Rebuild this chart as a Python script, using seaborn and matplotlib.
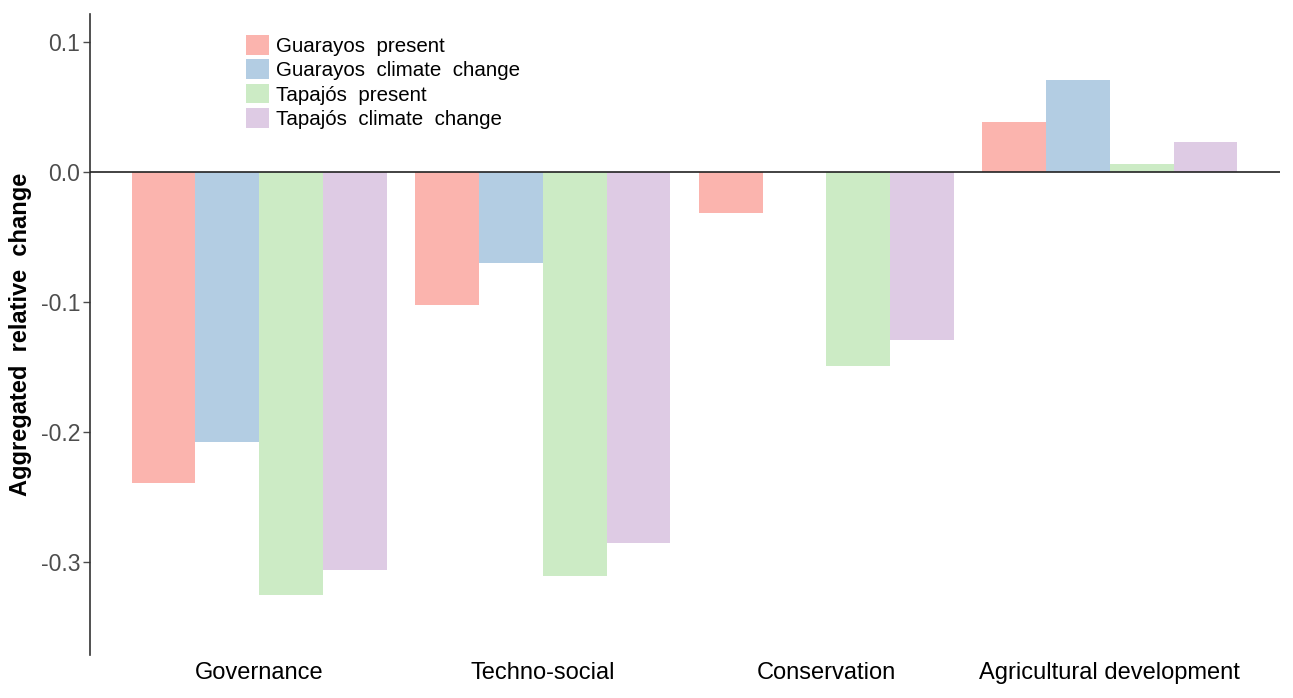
import matplotlib
matplotlib.use("Agg")
import matplotlib.pyplot as plt
import seaborn as sns
import pandas as pd
import numpy as np

categories = ["Governance", "Techno-social", "Conservation", "Agricultural development"]
series_names = ["Guarayos present", "Guarayos climate change", "Tapajós present", "Tapajós climate change"]
guarayos_present = [-0.239, -0.102, -0.0315, 0.0385]
guarayos_cc = [-0.208, -0.070, np.nan, 0.0705]
tapajos_present = [-0.325, -0.311, -0.149, 0.0063]
tapajos_cc = [-0.306, -0.285, -0.129, 0.023]
y_ticks = [0.1, 0.0, -0.1, -0.2, -0.3]
y_tick_labels = ["0.1", "0.0", "-0.1", "-0.2", "-0.3"]
colors = ["#FBB4AE", "#B3CDE3", "#CCEBC5", "#DECBE4"]

rows = []
for name, vals in zip(series_names, [guarayos_present, guarayos_cc, tapajos_present, tapajos_cc]):
    for c, v in zip(categories, vals):
        rows.append({"category": c, "series": name, "value": v})
df = pd.DataFrame(rows)

sns.set_theme(style="white")
plt.rcParams["font.family"] = ["Liberation Sans", "DejaVu Sans"]
plt.rcParams["axes.unicode_minus"] = False

fig = plt.figure(figsize=(12.93, 6.98), dpi=100)
ax = fig.add_axes([90/1293, 1-655/698, (1280-90)/1293, (655-14)/698])

sns.barplot(data=df, x="category", y="value", hue="series", order=categories,
            hue_order=series_names, palette=colors, width=0.9, ax=ax,
            saturation=1, legend=True, errorbar=None, linewidth=0, edgecolor="none")

ax.set_xlim(-0.597, 3.6)
ax.set_ylim(-0.3715, 0.1215)
ax.axhline(0, color="#222222", lw=1.2, zorder=5)

ax.set_yticks(y_ticks)
ax.set_yticklabels(y_tick_labels)
ax.tick_params(axis="y", colors="#4D4D4D", labelsize=16.5, length=5, width=1, left=True, pad=2)
ax.tick_params(axis="x", labelsize=17, labelcolor="black", length=0, pad=5)
for lbl in ax.get_yticklabels():
    lbl.set_color("#4D4D4D")

for s in ["top", "right", "bottom"]:
    ax.spines[s].set_visible(False)
ax.spines["left"].set_color("#333333")
ax.spines["left"].set_linewidth(1.2)

ax.set_xlabel("")
ax.set_ylabel("Aggregated  relative  change", fontsize=17, fontweight="bold", color="black", labelpad=6)

handles, labels = ax.get_legend_handles_labels()
ax.get_legend().remove()
fig.legend(handles, ["  ".join(l.split(" ")) for l in labels], loc="upper left",
           bbox_to_anchor=(246/1293, 1-35/698), labelcolor="black",
           frameon=False, fontsize=14.8, handlelength=1.1, handleheight=1.1,
           labelspacing=0.17, handletextpad=0.35, borderpad=0, borderaxespad=0)

fig.savefig("out.png", dpi=100)
